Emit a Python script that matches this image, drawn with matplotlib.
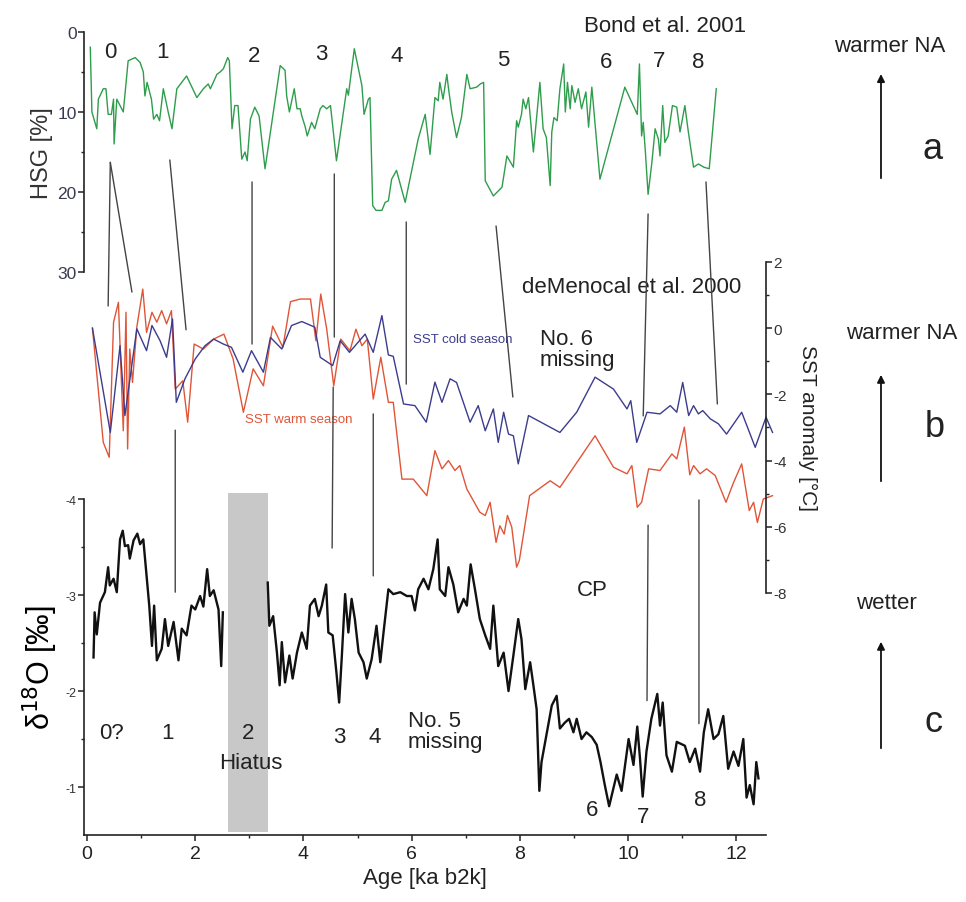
import matplotlib
matplotlib.use("Agg")
import matplotlib.pyplot as plt
import numpy as np
from matplotlib.patches import ConnectionPatch, FancyArrowPatch, Rectangle

plt.rcParams['font.family'] = ['Liberation Sans', 'DejaVu Sans']
plt.rcParams['axes.unicode_minus'] = False

# ---------------- data ----------------
hsg_age = [0.06, 0.09, 0.18, 0.21, 0.30, 0.35, 0.39, 0.45, 0.49, 0.50, 0.55, 0.61, 0.67, 0.76, 0.89,
           0.98, 1.04, 1.07, 1.11, 1.19, 1.23, 1.29, 1.34, 1.41, 1.50, 1.57, 1.66, 1.84, 2.03, 2.15,
           2.24, 2.28, 2.40, 2.46, 2.52, 2.60, 2.63, 2.68, 2.73, 2.79, 2.86, 2.92, 2.96, 3.02, 3.10,
           3.18, 3.29, 3.57, 3.66, 3.69, 3.74, 3.83, 3.88, 3.94, 3.97, 4.03, 4.07, 4.15, 4.21, 4.31,
           4.36, 4.43, 4.50, 4.61, 4.80, 4.83, 4.94, 5.08, 5.12, 5.20, 5.23, 5.28, 5.34, 5.45, 5.51,
           5.57, 5.63, 5.72, 5.88, 6.12, 6.25, 6.34, 6.43, 6.49, 6.52, 6.58, 6.65, 6.68, 6.74, 6.83,
           6.92, 7.02, 7.08, 7.20, 7.27, 7.33, 7.36, 7.51, 7.67, 7.76, 7.88, 7.94, 7.97, 8.03, 8.06,
           8.11, 8.16, 8.25, 8.37, 8.43, 8.49, 8.56, 8.59, 8.63, 8.69, 8.74, 8.81, 8.84, 8.88, 8.93,
           8.96, 9.02, 9.08, 9.14, 9.22, 9.27, 9.33, 9.48, 9.94, 10.17, 10.21, 10.25, 10.28, 10.32,
           10.37, 10.44, 10.50, 10.56, 10.59, 10.64, 10.68, 10.74, 10.82, 10.90, 10.96, 11.05, 11.11,
           11.21, 11.30, 11.40, 11.50, 11.63]
hsg_val = [1.9, 10.0, 12.1, 8.4, 7.1, 7.1, 10.3, 10.3, 8.4, 14.0, 8.4, 9.2, 10.0, 3.6, 3.2,
           3.8, 5.0, 8.0, 6.3, 8.4, 10.9, 10.3, 11.1, 7.1, 10.0, 12.1, 7.1, 5.5, 8.2, 7.1,
           6.5, 7.1, 5.3, 5.0, 4.6, 3.2, 3.6, 12.1, 9.2, 9.2, 15.9, 15.0, 16.1, 10.9, 9.4,
           10.5, 17.1, 4.2, 4.8, 8.0, 10.0, 7.1, 9.6, 9.6, 10.5, 11.8, 13.0, 11.3, 12.1, 9.6,
           9.2, 9.6, 9.2, 16.1, 7.1, 7.9, 2.1, 6.7, 10.3, 8.4, 8.2, 21.7, 22.3, 22.3, 21.3,
           21.1, 18.4, 17.3, 21.3, 13.4, 10.3, 15.3, 8.2, 8.6, 6.3, 8.4, 5.3, 7.0, 10.0, 13.2,
           10.7, 5.3, 7.1, 6.9, 6.5, 6.3, 18.6, 20.5, 19.4, 15.5, 16.9, 11.1, 11.9, 10.3, 8.4,
           9.6, 8.2, 15.0, 6.3, 12.1, 13.2, 19.2, 12.5, 10.7, 11.1, 7.1, 4.0, 10.0, 6.3, 9.6,
           6.7, 8.8, 7.1, 9.6, 7.5, 11.9, 6.9, 18.4, 6.9, 10.3, 4.0, 13.0, 11.3, 15.0,
           20.3, 16.3, 12.1, 13.4, 15.5, 9.2, 13.8, 13.0, 9.2, 9.4, 12.5, 9.2, 12.3,
           16.9, 16.5, 16.9, 17.1, 7.1]

sst_cold_age = [0.10, 0.43, 0.61, 0.70, 0.92, 1.10, 1.20, 1.35, 1.47, 1.58, 1.65, 1.81, 2.00, 2.18,
                2.34, 2.52, 2.67, 2.88, 3.04, 3.26, 3.39, 3.60, 3.78, 3.97, 4.21, 4.31, 4.54, 4.68,
                4.85, 5.14, 5.29, 5.45, 5.57, 5.66, 5.85, 6.06, 6.27, 6.43, 6.56, 6.71, 6.83, 7.08,
                7.23, 7.36, 7.51, 7.60, 7.70, 7.79, 7.88, 7.97, 8.16, 8.74, 9.05, 9.39, 9.73, 9.98,
                10.05, 10.16, 10.35, 10.59, 10.78, 10.90, 11.01, 11.12, 11.21, 11.30, 11.38, 11.52,
                11.67, 11.82, 12.10, 12.35, 12.55, 12.67]
sst_cold = [0.0, -3.15, -0.53, -2.64, -0.02, -0.68, 0.08, -0.38, -0.88, 0.28, -2.24, -1.53, -0.93, -0.53,
            -0.33, -0.48, -0.58, -1.33, -0.68, -1.33, -0.28, -0.63, 0.08, 0.20, 0.03, -0.88, -1.13, -0.38,
            -0.73, -0.18, -0.73, 0.38, -0.81, -0.85, -2.29, -2.34, -2.84, -1.63, -2.24, -1.53, -1.64, -2.84,
            -2.34, -3.10, -2.44, -3.45, -2.54, -3.20, -3.25, -4.10, -2.64, -3.15, -2.54, -1.48, -1.84, -2.44,
            -2.19, -3.45, -2.54, -2.59, -2.34, -2.54, -1.64, -2.64, -2.34, -2.59, -2.49, -2.74,
            -2.89, -3.20, -2.54, -3.60, -2.69, -3.15]

sst_warm_age = [0.10, 0.30, 0.41, 0.49, 0.58, 0.67, 0.72, 0.75, 0.79, 0.84, 0.92, 1.03, 1.10, 1.20,
                1.29, 1.38, 1.47, 1.56, 1.63, 1.77, 1.86, 1.98, 2.15, 2.34, 2.53, 2.70, 2.89, 3.07,
                3.26, 3.43, 3.62, 3.76, 3.94, 4.13, 4.23, 4.32, 4.43, 4.56, 4.69, 4.86, 4.97, 5.08,
                5.18, 5.29, 5.43, 5.57, 5.66, 5.82, 6.03, 6.28, 6.43, 6.56, 6.68, 6.80, 6.89, 7.02,
                7.26, 7.36, 7.45, 7.56, 7.63, 7.71, 7.77, 7.85, 7.94, 7.99, 8.18, 8.56, 8.74, 9.39,
                9.73, 9.98, 10.07, 10.17, 10.25, 10.38, 10.59, 10.81, 10.90, 11.04, 11.14, 11.21,
                11.33, 11.45, 11.61, 11.81, 11.95, 12.10, 12.24, 12.32, 12.39, 12.50, 12.67]
sst_warm = [0.0, -3.45, -3.90, 0.18, 0.78, -3.10, 0.48, -3.65, -0.63, -1.64, 0.03, 1.18, -0.13, 0.48,
            0.18, 0.53, 0.13, 0.53, -1.84, -1.59, -2.84, -0.48, -0.63, -0.33, -0.18, -0.93, -2.54, -1.23,
            -1.74, 0.06, -0.58, 0.80, 0.88, 0.88, -0.38, 1.03, -0.03, -1.74, -0.33, -0.68, -0.03, -0.53,
            -0.33, -2.14, -0.88, -2.24, -2.24, -4.56, -4.56, -5.06, -3.70, -4.25, -4.00, -4.30, -4.15, -4.86,
            -5.56, -5.66, -5.26, -6.47, -5.97, -6.22, -5.66, -6.01, -7.22, -7.02, -5.06, -4.61, -4.81, -3.25,
            -4.20, -4.40, -4.15, -5.41, -5.26, -4.25, -4.30, -3.80, -3.95, -2.99, -4.43, -4.15,
            -4.40, -4.25, -4.45, -5.26, -4.66, -4.10, -5.51, -5.26, -5.87, -5.16, -5.06]

# delta18O, Holocene part younger than the hiatus
d18o_age_young = [0.12, 0.14, 0.18, 0.24, 0.33, 0.39, 0.42, 0.49, 0.55, 0.58, 0.61, 0.66, 0.70, 0.76,
                  0.79, 0.86, 0.93, 0.98, 1.04, 1.15, 1.20, 1.24, 1.29, 1.38, 1.44, 1.50, 1.60, 1.69,
                  1.75, 1.84, 1.93, 2.00, 2.09, 2.15, 2.22, 2.27, 2.34, 2.43, 2.48, 2.51]
d18o_young = [-2.35, -2.82, -2.59, -2.92, -3.03, -3.29, -3.10, -3.17, -3.03, -3.31, -3.58, -3.67, -3.51, -3.52,
              -3.38, -3.57, -3.64, -3.53, -3.58, -2.89, -2.47, -2.89, -2.32, -2.44, -2.75, -2.47, -2.72, -2.32,
              -2.65, -2.58, -2.89, -2.85, -2.99, -2.88, -3.27, -2.99, -3.05, -2.85, -2.26, -2.82]
# delta18O, older than the hiatus
d18o_age_old = [3.34, 3.37, 3.44, 3.51, 3.56, 3.60, 3.66, 3.74, 3.80, 3.88, 3.97, 4.06, 4.12, 4.21, 4.28,
                4.34, 4.42, 4.46, 4.54, 4.61, 4.66, 4.71, 4.77, 4.83, 4.89, 4.95, 5.02, 5.11, 5.17, 5.26,
                5.35, 5.42, 5.48, 5.57, 5.66, 5.79, 5.91, 6.00, 6.06, 6.12, 6.22, 6.31, 6.40, 6.48, 6.52,
                6.62, 6.68, 6.77, 6.86, 6.96, 7.02, 7.09, 7.17, 7.26, 7.36, 7.45, 7.51, 7.60, 7.70, 7.79,
                7.88, 7.97, 8.03, 8.10, 8.19, 8.25, 8.31, 8.36, 8.40, 8.50, 8.59, 8.68, 8.74, 8.83, 8.91,
                8.99, 9.05, 9.14, 9.23, 9.33, 9.42, 9.49, 9.57, 9.65, 9.79, 9.88, 10.01, 10.10, 10.17,
                10.22, 10.27, 10.34, 10.43, 10.54, 10.59, 10.64, 10.71, 10.81, 10.90, 11.05, 11.14, 11.24,
                11.33, 11.40, 11.48, 11.58, 11.67, 11.76, 11.85, 11.95, 12.04, 12.13, 12.19, 12.25, 12.32,
                12.37, 12.41]
d18o_old = [-3.13, -2.68, -2.78, -2.40, -2.06, -2.51, -2.09, -2.37, -2.13, -2.40, -2.61, -2.44, -2.89, -2.96,
            -2.78, -2.89, -3.11, -2.61, -2.58, -2.19, -1.88, -2.37, -3.01, -2.61, -2.96, -2.75, -2.40, -2.30,
            -2.13, -2.33, -2.68, -2.30, -2.61, -3.06, -3.01, -3.03, -2.99, -2.99, -2.84, -3.06, -3.17, -3.06,
            -3.27, -3.58, -3.06, -2.99, -3.29, -3.11, -2.82, -2.96, -2.89, -3.32, -3.06, -2.75, -2.58, -2.44,
            -2.89, -2.26, -2.40, -2.00, -2.37, -2.75, -2.54, -2.02, -2.30, -2.06, -1.81, -0.96, -1.26, -1.57,
            -1.85, -1.95, -1.61, -1.67, -1.71, -1.57, -1.71, -1.50, -1.57, -1.52, -1.44, -1.26, -1.02, -0.80,
            -1.13, -0.96, -1.50, -1.23, -1.63, -1.30, -0.90, -1.37, -1.71, -1.97, -1.64, -1.88, -1.33, -1.16,
            -1.47, -1.43, -1.26, -1.40, -1.16, -1.57, -1.81, -1.50, -1.55, -1.74, -1.19, -1.37, -1.22, -1.50,
            -0.89, -1.02, -0.82, -1.26, -1.09]

hiatus_span = (2.61, 3.35)
x_ticks = [0, 2, 4, 6, 8, 10, 12]
hsg_ticks = [0, 10, 20, 30]
sst_ticks = [2, 0, -2, -4, -6, -8]
d18o_ticks = [-4, -3, -2, -1]

# ---------------- figure ----------------
fig = plt.figure(figsize=(9.66, 9.03), dpi=100)
L, W = 0.0873, 0.7057
ax_top = fig.add_axes([L, 0.6977, W, 0.2658])
ax_mid = fig.add_axes([L, 0.3422, W, 0.3666])
ax_bot = fig.add_axes([L, 0.0742, W, 0.372])
XL = (-0.05, 12.55)
spine_c = '#222222'
for ax in (ax_top, ax_mid, ax_bot):
    ax.set_xlim(*XL)
    ax.patch.set_alpha(0)
    for s in ax.spines.values():
        s.set_visible(False)
        s.set_color(spine_c)
        s.set_linewidth(1.2)
    ax.tick_params(which='major', direction='out', length=4, width=1.1, color=spine_c, pad=1.5)
    ax.tick_params(which='minor', direction='out', length=2.5, width=1.0, color=spine_c)

# top panel (HSG)
ax_top.plot(hsg_age, hsg_val, color='#2e9d4c', lw=1.0, clip_on=False)
ax_top.set_ylim(30, 0)
ax_top.spines['left'].set_visible(True)
ax_top.set_yticks(hsg_ticks)
ax_top.set_yticks([5, 15, 25], minor=True)
ax_top.set_xticks([])
ax_top.tick_params(axis='y', labelsize=12.5, labelcolor='#3a3a50')
ax_top.set_ylabel('HSG [%]', fontsize=17, color='#333333', labelpad=3)

# middle panel (SST)
ax_mid.plot(sst_warm_age, sst_warm, color='#e05538', lw=1.0, clip_on=False)
ax_mid.plot(sst_cold_age, sst_cold, color='#3c3c8e', lw=1.0, clip_on=False)
ax_mid.set_ylim(-8, 2)
ax_mid.spines['right'].set_visible(True)
ax_mid.yaxis.tick_right()
ax_mid.yaxis.set_label_position('right')
ax_mid.set_yticks(sst_ticks)
ax_mid.set_yticks([1, -1, -3, -5, -7], minor=True)
ax_mid.set_xticks([])
ax_mid.tick_params(axis='y', labelsize=11, labelcolor='#333333', pad=1)
ax_mid.set_ylabel('SST anomaly [°C]', fontsize=15, rotation=270, labelpad=22, color='#222222')

# bottom panel (d18O)
ax_bot.add_patch(Rectangle((hiatus_span[0], -4.06), hiatus_span[1] - hiatus_span[0], 3.53,
                           color='#c8c8c8', lw=0, zorder=0, clip_on=False))
ax_bot.plot(d18o_age_young, d18o_young, color='#111111', lw=1.7, clip_on=False)
ax_bot.plot(d18o_age_old, d18o_old, color='#111111', lw=1.7, clip_on=False)
ax_bot.set_ylim(-0.5, -4.0)
ax_bot.spines['left'].set_visible(True)
ax_bot.spines['bottom'].set_visible(True)
ax_bot.set_yticks(d18o_ticks)
ax_bot.set_yticks([-3.5, -2.5, -1.5], minor=True)
ax_bot.set_xticks(x_ticks)
ax_bot.set_xticks([1, 3, 5, 7, 9, 11], minor=True)
ax_bot.tick_params(axis='y', labelsize=9, labelcolor='#333333')
ax_bot.tick_params(axis='x', labelsize=14, labelcolor='#222222', pad=3)
ax_bot.set_ylabel('δ$^{18}$O [‰]', fontsize=22, labelpad=4)
ax_bot.set_xlabel('Age [ka b2k]', fontsize=16, labelpad=4, color='#222222')

# connection lines between records
conn_top_mid = [((0.43, 16.3), (0.39, 0.67)), ((0.43, 16.3), (0.83, 1.09)), ((1.53, 16.0), (1.83, -0.05)),
                ((3.05, 18.75), (3.05, -0.48)), ((4.57, 17.75), (4.57, -0.27)), ((5.90, 23.75), (5.90, -1.69)),
                ((7.56, 24.25), (7.87, -2.08)), ((10.37, 22.75), (10.28, -2.65)), ((11.44, 18.75), (11.65, -2.29))]
conn_mid_bot = [((1.63, -3.08), (1.63, -3.03)), ((4.55, -1.78), (4.53, -3.49)), ((5.29, -2.59), (5.29, -3.20)),
                ((10.37, -5.95), (10.35, -1.90)), ((11.31, -5.19), (11.31, -1.66))]
for a, b in conn_top_mid:
    fig.add_artist(ConnectionPatch(xyA=a, coordsA=ax_top.transData, xyB=b, coordsB=ax_mid.transData,
                                   color='#444444', lw=1.0))
for a, b in conn_mid_bot:
    fig.add_artist(ConnectionPatch(xyA=a, coordsA=ax_mid.transData, xyB=b, coordsB=ax_bot.transData,
                                   color='#444444', lw=1.0))

# text annotations
tc = '#222222'
fs = 16
for lab, x, y in [('0', 0.43, 2.5), ('1', 1.40, 2.5), ('2', 3.09, 3.0), ('3', 4.33, 2.75), ('4', 5.73, 3.0),
                  ('5', 7.69, 3.4), ('6', 9.59, 3.75), ('7', 10.57, 3.6), ('8', 11.29, 3.75)]:
    ax_top.text(x, y, lab, fontsize=fs, ha='center', va='center', color=tc)
ax_top.text(10.68, -0.75, 'Bond et al. 2001', fontsize=fs, ha='center', va='center', color=tc)

ax_mid.text(10.07, 1.27, 'deMenocal et al. 2000', fontsize=fs, ha='center', va='center', color=tc)
ax_mid.text(8.37, -0.63, 'No. 6\nmissing', fontsize=fs, ha='left', va='center', color=tc, linespacing=1.0)
ax_mid.text(6.03, -0.33, 'SST cold season', fontsize=9.5, ha='left', va='center', color='#3c3c8e')
ax_mid.text(2.92, -2.74, 'SST warm season', fontsize=9.5, ha='left', va='center', color='#e05538')

for lab, x, y in [('0?', 0.46, -1.57), ('1', 1.48, -1.57), ('2', 2.98, -1.57), ('3', 4.66, -1.53),
                  ('4', 5.32, -1.53), ('6', 9.33, -0.77), ('7', 10.28, -0.69), ('8', 11.33, -0.875)]:
    ax_bot.text(x, y, lab, fontsize=fs, ha='center', va='center', color=tc)
ax_bot.text(3.03, -1.26, 'Hiatus', fontsize=fs, ha='center', va='center', color=tc)
ax_bot.text(5.93, -1.58, 'No. 5\nmissing', fontsize=fs, ha='left', va='center', color=tc, linespacing=1.0)
ax_bot.text(9.33, -3.06, 'CP', fontsize=fs, ha='center', va='center', color=tc)

# right margin: direction arrows and panel letters
for (x, y0, y1) in [(0.912, 0.7985, 0.920), (0.912, 0.4629, 0.5869), (0.912, 0.1672, 0.2913)]:
    fig.add_artist(FancyArrowPatch((x, y0), (x, y1), transform=fig.transFigure, arrowstyle='-|>',
                                   mutation_scale=11, lw=1.3, color='#111111'))
fig.text(0.9213, 0.948, 'warmer NA', fontsize=fs, ha='center', va='center', color=tc)
fig.text(0.9337, 0.631, 'warmer NA', fontsize=fs, ha='center', va='center', color=tc)
fig.text(0.918, 0.332, 'wetter', fontsize=fs, ha='center', va='center', color=tc)
fig.text(0.9658, 0.834, 'a', fontsize=26, ha='center', va='center', color=tc)
fig.text(0.968, 0.527, 'b', fontsize=26, ha='center', va='center', color=tc)
fig.text(0.966, 0.200, 'c', fontsize=26, ha='center', va='center', color=tc)

fig.savefig('out.png', dpi=100)
